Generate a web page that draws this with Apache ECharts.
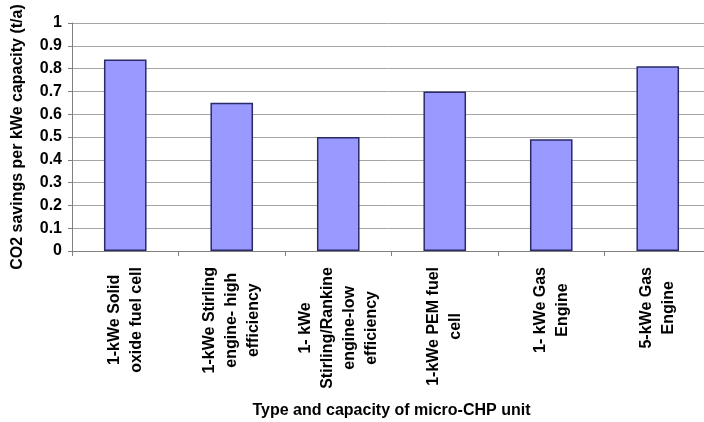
<!DOCTYPE html>
<html>
<head>
<meta charset="utf-8">
<script src="https://cdn.jsdelivr.net/npm/echarts@6/dist/echarts.min.js"></script>
<style>
  html, body { margin: 0; padding: 0; background: #ffffff; }
  #chart { width: 704px; height: 422px; }
</style>
</head>
<body>
<div id="chart"></div>
<script>
// Micro-CHP unit types (multi-line axis labels)
const categories = [
  '1-kWe Solid\noxide fuel cell',
  '1-kWe Stirling\nengine- high\nefficiency',
  '1- kWe\nStirling/Rankine\nengine-low\nefficiency',
  '1-kWe PEM fuel\ncell',
  '1- kWe Gas\nEngine',
  '5-kWe Gas\nEngine'
];

// CO2 savings per kWe capacity (t/a)
const savings = [0.84, 0.65, 0.50, 0.70, 0.49, 0.81];

// Value axis range
const yMin = 0;
const yMax = 1;
const yStep = 0.1;

const FONT = '"Liberation Sans", Arial, sans-serif';

const chart = echarts.init(document.getElementById('chart'), null, { renderer: 'canvas' });

chart.setOption({
  backgroundColor: '#ffffff',
  animation: false,
  grid: { left: 72, top: 23, bottom: 171, right: -7, containLabel: false, outerBoundsMode: 'none' },
  xAxis: {
    type: 'category',
    data: categories,
    name: 'Type and capacity of micro-CHP unit',
    nameLocation: 'middle',
    nameGap: 152,
    nameTextStyle: { fontFamily: FONT, fontWeight: 'bold', fontSize: 16, color: '#000' },
    axisLine: { show: true, lineStyle: { color: '#808080', width: 1 } },
    axisTick: { show: true, alignWithLabel: false, length: 5, lineStyle: { color: '#808080' } },
    axisLabel: {
      interval: 0,
      rotate: 90,
      margin: 16,
      formatter: function (v) {
        return v.split('\n').map(function (s) { return '{a|' + s + '}'; }).join('\n');
      },
      rich: {
        a: {
          align: 'center',
          lineHeight: 22,
          fontFamily: FONT,
          fontWeight: 'bold',
          fontSize: 16,
          color: '#000'
        }
      }
    },
    splitLine: { show: false }
  },
  yAxis: {
    type: 'value',
    min: yMin,
    max: yMax,
    interval: yStep,
    name: 'CO2 savings per kWe capacity (t/a)',
    nameLocation: 'middle',
    nameGap: 46,
    nameRotate: 90,
    nameTextStyle: { fontFamily: FONT, fontWeight: 'bold', fontSize: 16, color: '#000' },
    axisLine: { show: true, lineStyle: { color: '#808080', width: 1 } },
    axisTick: { show: true, length: 4, lineStyle: { color: '#808080' } },
    axisLabel: {
      margin: 10,
      fontFamily: FONT,
      fontWeight: 'bold',
      fontSize: 16,
      color: '#000',
      formatter: function (v) { return String(Math.round(v * 10) / 10); }
    },
    splitLine: { show: true, lineStyle: { color: '#a6a6a6', width: 1 } }
  },
  series: [{
    type: 'bar',
    data: savings,
    barWidth: '40%',
    itemStyle: { color: '#9999ff', borderColor: '#2a2a66', borderWidth: 1.5 }
  }]
});
</script>
</body>
</html>
